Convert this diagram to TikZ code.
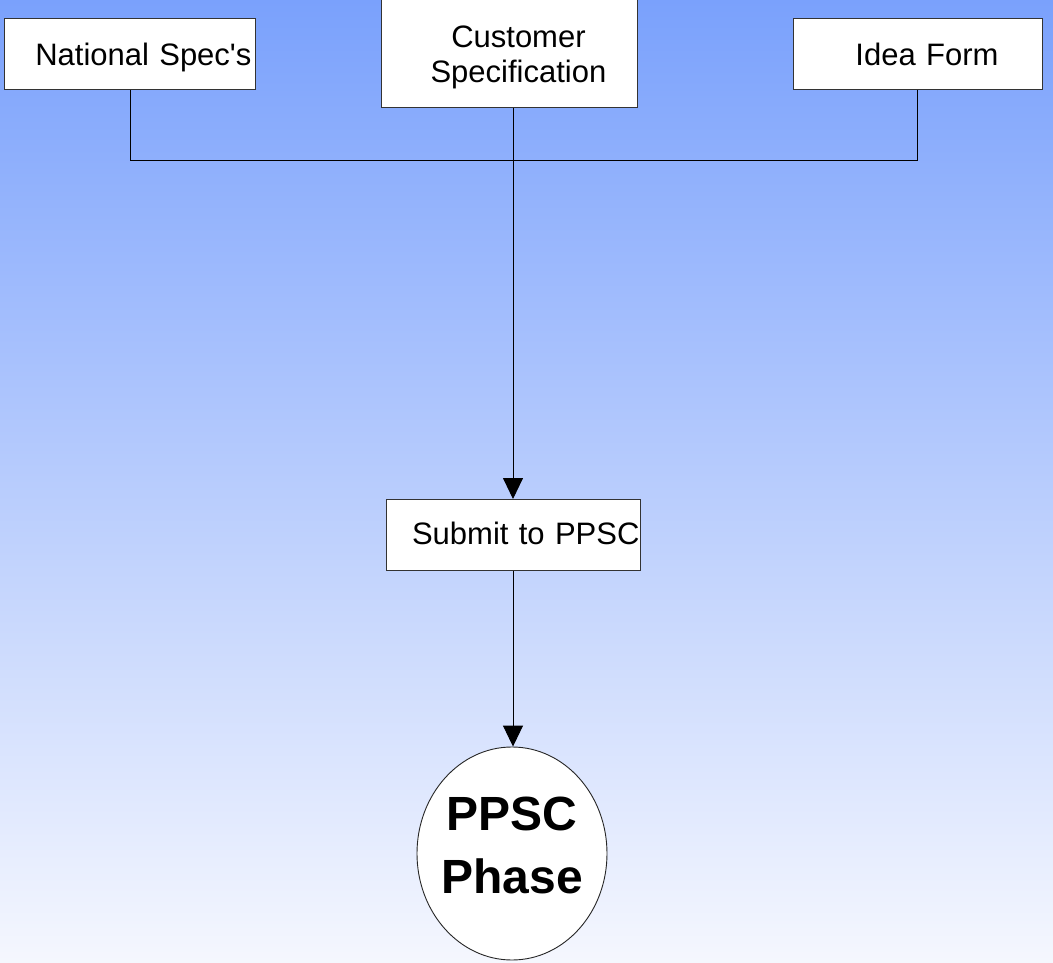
\documentclass[tikz,border=0pt]{standalone}
\usepackage{fontspec}
\setmainfont{Liberation Sans}
\usetikzlibrary{arrows.meta,shapes.geometric}
\definecolor{skytop}{RGB}{122,161,252}
\definecolor{skybottom}{RGB}{245,247,254}
\newcommand{\lowered}[2]{\raisebox{#1}[\height][\depth]{#2}}
\tikzset{
  card/.style={draw=black!80, fill=white, line width=0.9pt, anchor=north west,
    font=\fontsize{31}{35}\selectfont, inner xsep=5pt, inner ysep=0pt},
  link/.style={draw=black, line width=0.9pt},
  flow/.style={link, -{Triangle[width=20pt,length=21pt]}},
}
\begin{document}
\begin{tikzpicture}[x=1pt,y=-1pt]
  % backdrop
  \shade[top color=skytop, bottom color=skybottom] (0,0) rectangle (1053,963);
  \useasboundingbox (0,0) rectangle (1053,963);

  % source documents
  \node[card, minimum width=251pt, minimum height=71pt,
        text width=243pt, inner xsep=4pt, align=right] (national) at (4,18)
        {\lowered{-4pt}{National Spec\textquotesingle s}};
  \node[card, minimum width=256pt, minimum height=109pt,
        text width=246pt, align=center] (customer) at (381,-2)
        {\lowered{-4pt}{\hspace*{18pt}Customer}\\\lowered{-4pt}{\hspace*{18pt}Specification}};
  \node[card, minimum width=249pt, minimum height=71pt,
        text width=239pt, align=center] (idea) at (793,18) {\hspace*{18pt}Idea Form};

  % review step and phase
  \node[card, minimum width=254pt, minimum height=71pt,
        text width=252pt, inner xsep=1pt, align=right] (submit) at (386,499)
        {\lowered{2pt}{Submit to PPSC}};
  \node[draw=black!85, fill=white, line width=0.9pt, ellipse,
        minimum width=190pt, minimum height=213pt, inner sep=0pt,
        font=\bfseries\fontsize{48}{60}\selectfont] (phase) at (512,853.5)
        {\makebox[0pt]{\begin{tabular}{@{}c@{}}\raisebox{7pt}{PPSC}\\[-4pt]Phase\end{tabular}}};

  % merging connectors
  \coordinate (join) at (513,160);
  \coordinate (nj) at (130,160);
  \coordinate (ij) at (917,160);
  \draw[link] (national.south -| nj) -- (nj) -- (ij) -- (idea.south -| ij);
  \draw[flow] (customer.south -| join) -- (submit.north -| join);
  \draw[flow] (submit.south -| join) -- (phase.north -| join);
\end{tikzpicture}
\end{document}
